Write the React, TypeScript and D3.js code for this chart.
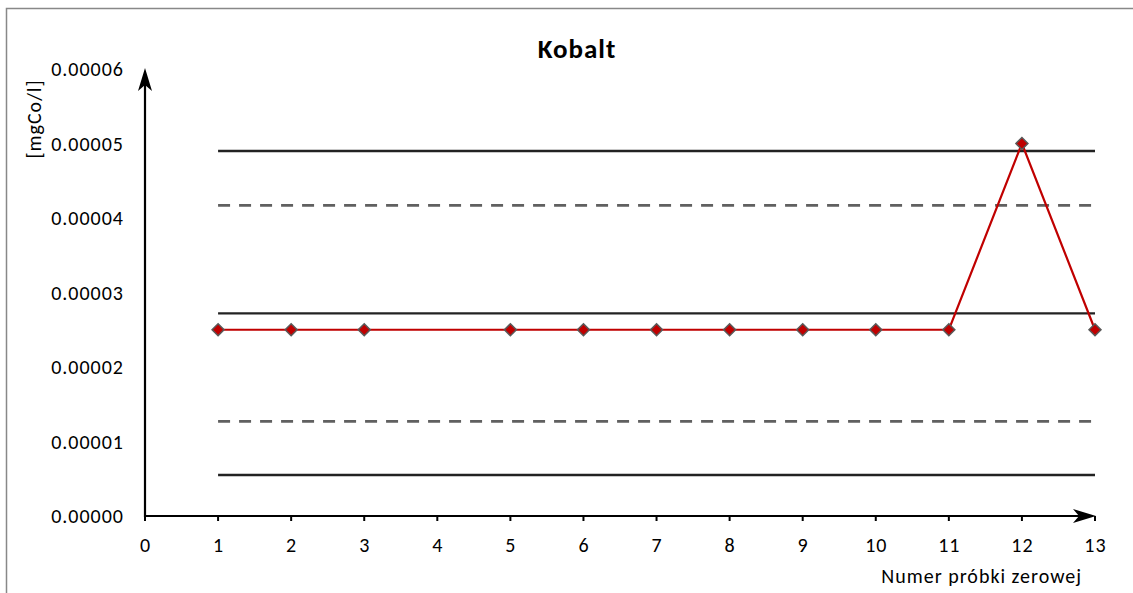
import React from "react";
import * as d3 from "d3";

const sampleNumbers = [1, 2, 3, 5, 6, 7, 8, 9, 10, 11, 12, 13];
const sampleValues = [0.000025, 0.000025, 0.000025, 0.000025, 0.000025, 0.000025, 0.000025, 0.000025, 0.000025, 0.000025, 0.00005, 0.000025];
const solidLimits = [0.000049, 0.0000272, 0.0000055];
const dashedLimits = [0.0000417, 0.0000127];
const xTicks = [0, 1, 2, 3, 4, 5, 6, 7, 8, 9, 10, 11, 12, 13];
const yTicks = [0, 0.00001, 0.00002, 0.00003, 0.00004, 0.00005, 0.00006];
const limitRange = [1, 13];

const W = 1133;
const H = 593;
const FONT = "Carlito, Calibri, Lato, 'Open Sans', 'Noto Sans', sans-serif";

export default function App() {
  const x = d3.scaleLinear().domain([0, 13]).range([145, 1095]);
  const y = d3.scaleLinear().domain([0, 0.00006]).range([516, 69]);
  const line = d3
    .line<number>()
    .x((_, i) => x(sampleNumbers[i]))
    .y((d) => y(d));
  const diamond = (cx: number, cy: number, r: number) =>
    `M${cx},${cy - r}L${cx + r},${cy}L${cx},${cy + r}L${cx - r},${cy}Z`;
  return (
    <svg
      width={W}
      height={H}
      style={{ position: "absolute", left: 0, top: 0, background: "#fff" }}
      fontFamily={FONT}
      letterSpacing={1}
    >
      <rect x={6.5} y={8.5} width={W + 10} height={H + 10} fill="#fff" stroke="#888" strokeWidth={1.5} />
      <text x={577} y={58} textAnchor="middle" fontSize={27} fontWeight="bold" fill="#000">
        Kobalt
      </text>
      {solidLimits.map((v, i) => (
        <line key={"s" + i} x1={x(limitRange[0])} x2={x(limitRange[1])} y1={y(v)} y2={y(v)} stroke="#222" strokeWidth={2.4} />
      ))}
      {dashedLimits.map((v, i) => (
        <line key={"d" + i} x1={x(limitRange[0])} x2={x(limitRange[1])} y1={y(v)} y2={y(v)} stroke="#606060" strokeWidth={2.6} strokeDasharray="12,9" />
      ))}
      <line x1={x(0)} x2={x(0)} y1={y(0) + 1} y2={y(0.00006) + 6} stroke="#000" strokeWidth={2.2} />
      <path d={`M${x(0)},${y(0.00006) - 1}L${x(0) - 7},${y(0.00006) + 22}L${x(0)},${y(0.00006) + 16}L${x(0) + 7},${y(0.00006) + 22}Z`} fill="#000" />
      <line x1={x(0) - 1} x2={x(13) - 6} y1={y(0)} y2={y(0)} stroke="#000" strokeWidth={2.2} />
      <path d={`M${x(13) + 1},${y(0)}L${x(13) - 22},${y(0) - 7}L${x(13) - 16},${y(0)}L${x(13) - 22},${y(0) + 7}Z`} fill="#000" />
      {xTicks.map((t) => (
        <g key={"xt" + t}>
          <line x1={x(t)} x2={x(t)} y1={y(0)} y2={y(0) + 5} stroke="#000" strokeWidth={2} />
          <text x={x(t) + 0.5} y={y(0) + 36} textAnchor="middle" fontSize={20} fill="#000">
            {t}
          </text>
        </g>
      ))}
      {yTicks.map((t) => (
        <text key={"yt" + t} x={124} y={y(t) + 7} textAnchor="end" fontSize={20} fill="#000">
          {t.toFixed(5)}
        </text>
      ))}
      <text transform={`translate(41,119) rotate(-90)`} textAnchor="middle" fontSize={20} fill="#000">
        [mgCo/l]
      </text>
      <text x={1082} y={583} textAnchor="end" fontSize={20} fill="#000">
        Numer próbki zerowej
      </text>
      <path d={line(sampleValues) || ""} fill="none" stroke="#c00000" strokeWidth={2.2} />
      {sampleValues.map((v, i) => (
        <path key={"m" + i} d={diamond(x(sampleNumbers[i]), y(v), 6)} fill="#c00000" stroke="#595959" strokeWidth={1.5} />
      ))}
    </svg>
  );
}
